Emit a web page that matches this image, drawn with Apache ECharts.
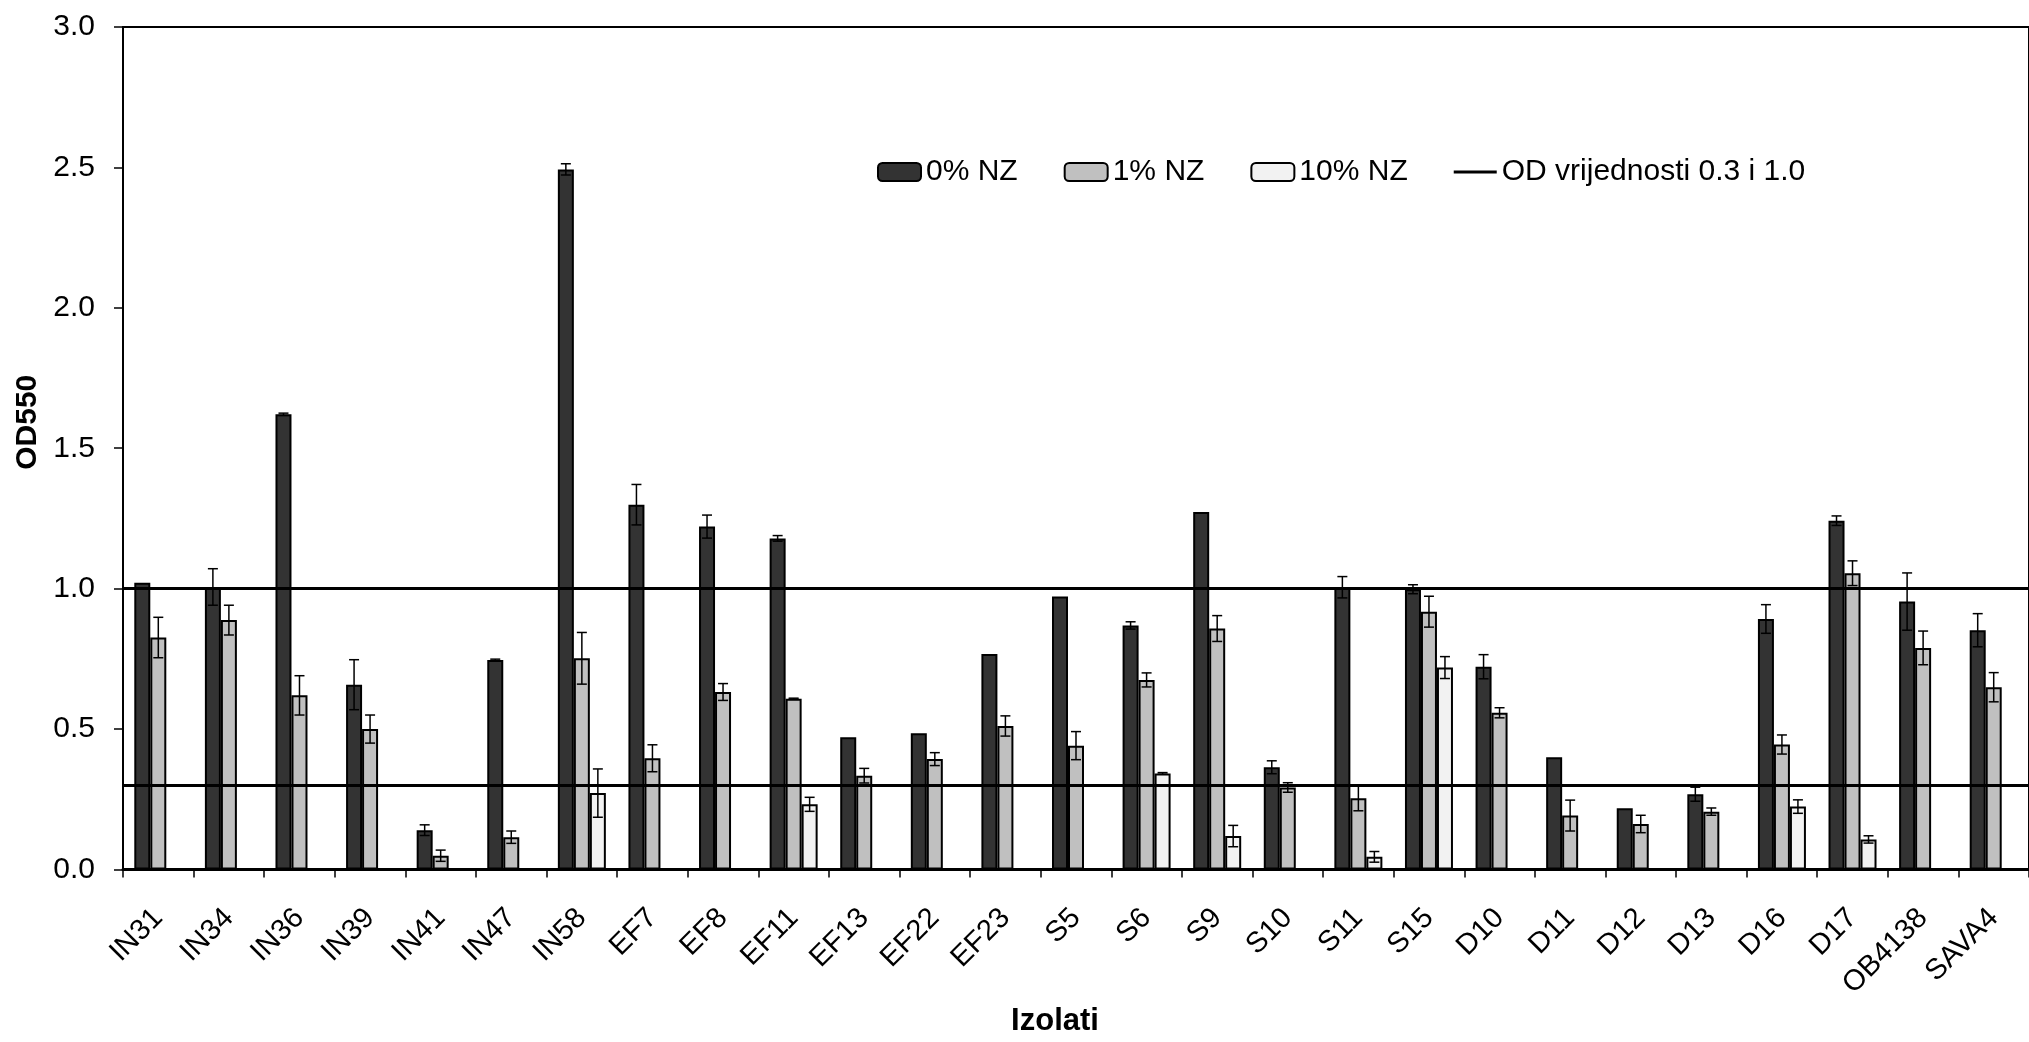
<!DOCTYPE html>
<html>
<head>
<meta charset="utf-8">
<script src="https://cdn.jsdelivr.net/npm/echarts@6/dist/echarts.min.js"></script>
<style>
html,body{margin:0;padding:0;background:#fff;}
#chart{width:2029px;height:1042px;}
</style>
</head>
<body>
<div id="chart"></div>
<script>
const categories = ['IN31','IN34','IN36','IN39','IN41','IN47','IN58','EF7','EF8','EF11','EF13','EF22','EF23','S5','S6','S9','S10','S11','S15','D10','D11','D12','D13','D16','D17','OB4138','SAVA4'];

const nz0  = [1.021,1.006,1.621,0.658,0.140,0.746,2.493,1.299,1.221,1.179,0.471,0.485,0.767,0.972,0.869,1.273,0.364,1.005,0.998,0.722,0.400,0.218,0.268,0.892,1.242,0.954,0.852];
const err0 = [0,    0.065,0.004,0.089,0.019,0.003,0.020,0.072,0.041,0.010,0,    0,    0,    0,    0.013,0,    0.023,0.038,0.016,0.043,0,    0,    0.025,0.051,0.017,0.102,0.059];

const nz1  = [0.826,0.888,0.620,0.500,0.049,0.115,0.752,0.396,0.632,0.608,0.334,0.393,0.511,0.441,0.675,0.858,0.292,0.254,0.918,0.558,0.192,0.162,0.206,0.445,1.055,0.789,0.649];
const err1 = [0.072,0.053,0.070,0.050,0.020,0.022,0.092,0.048,0.030,0.002,0.026,0.023,0.036,0.050,0.025,0.046,0.017,0.045,0.055,0.018,0.055,0.031,0.013,0.034,0.044,0.060,0.052];

const nz10  = [null,null,null,null,null,null,0.272,null,null,0.232,null,null,null,null,0.342,0.119,null,0.045,0.719,null,null,null,null,0.224,0.107,null,null];
const err10 = [null,null,null,null,null,null,0.086,null,null,0.025,null,null,null,null,0.003,0.038,null,0.019,0.039,null,null,null,null,0.024,0.013,null,null];

const thresholds = [0.3, 1.0];
const yTicks = [0, 0.5, 1.0, 1.5, 2.0, 2.5, 3.0];

const seriesNames = ['0% NZ','1% NZ','10% NZ'];
const lineName = 'OD vrijednosti 0.3 i 1.0';
const colors = ['#333333','#c0c0c0','#f2f2f2'];
const BAR_W = 16;
const FONT = 'Liberation Sans, Arial, sans-serif';

function barSeries(name, data, color) {
  return {
    name: name, type: 'bar', data: data,
    barWidth: BAR_W, barGap: '0%',
    itemStyle: {color: color, borderColor: '#000', borderWidth: 2},
    z: 2
  };
}

function errSeries(k, vals, errs) {
  const d = [];
  vals.forEach(function (v, i) {
    if (v != null && errs[i] != null && errs[i] > 0) d.push([i, v, errs[i]]);
  });
  return {
    name: 'err' + k, type: 'custom', data: d, z: 5,
    encode: {x: 0, y: 1},
    renderItem: function (params, api) {
      const idx = api.value(0), v = api.value(1), e = api.value(2);
      const x = api.coord([idx, v])[0] + (k - 1) * BAR_W;
      const yt = api.coord([idx, v + e])[1];
      const yb = api.coord([idx, v - e])[1];
      const hw = 5;
      const st = {stroke: '#000', lineWidth: 1.5};
      return {
        type: 'group',
        children: [
          {type: 'line', shape: {x1: x, y1: yt, x2: x, y2: yb}, style: st},
          {type: 'line', shape: {x1: x - hw, y1: yt, x2: x + hw, y2: yt}, style: st},
          {type: 'line', shape: {x1: x - hw, y1: yb, x2: x + hw, y2: yb}, style: st}
        ]
      };
    }
  };
}

const chart = echarts.init(document.getElementById('chart'));
chart.setOption({
  animation: false,
  backgroundColor: '#fff',
  textStyle: {fontFamily: FONT, color: '#000'},
  grid: {left: 123, top: 27, width: 1914, height: 880, show: true, borderColor: '#000', borderWidth: 2, backgroundColor: 'transparent'},
  legend: {
    data: [
      seriesNames[0], seriesNames[1], seriesNames[2],
      {name: lineName, icon: 'path://M0,0M43,18M0,7.5L43,7.5L43,10.5L0,10.5Z'}
    ],
    left: 872, top: 152,
    itemWidth: 43, itemHeight: 18, itemGap: 46,
    textStyle: {fontSize: 30, color: '#000', fontFamily: FONT},
    selectedMode: false
  },
  xAxis: {
    type: 'category', data: categories,
    name: 'Izolati', nameLocation: 'middle', nameGap: 109,
    nameTextStyle: {fontSize: 31, fontWeight: 'bold', color: '#000', fontFamily: FONT, padding: [0, 42, 0, 0]},
    axisLine: {lineStyle: {color: '#000', width: 3}},
    axisTick: {show: true, length: 8, lineStyle: {color: '#000', width: 1.5}},
    axisLabel: {rotate: 45, fontSize: 29, color: '#000', margin: 44, fontFamily: FONT, interval: 0}
  },
  yAxis: {
    type: 'value', min: 0, max: 3, interval: 0.5,
    name: 'OD550', nameLocation: 'middle', nameGap: 79, nameRotate: 90,
    nameTextStyle: {fontSize: 30, fontWeight: 'bold', color: '#000', fontFamily: FONT, padding: [0, 0, 0, 52]},
    axisLine: {show: true, lineStyle: {color: '#000', width: 2}},
    axisTick: {show: true, length: 9, lineStyle: {color: '#000', width: 1.5}},
    axisLabel: {fontSize: 30, color: '#000', margin: 28, fontFamily: FONT,
      formatter: function (v) { return yTicks.indexOf(v) >= 0 ? v.toFixed(1) : ''; }},
    splitLine: {show: false}
  },
  series: [
    barSeries(seriesNames[0], nz0, colors[0]),
    barSeries(seriesNames[1], nz1, colors[1]),
    barSeries(seriesNames[2], nz10, colors[2]),
    {
      name: lineName, type: 'line', data: [], symbol: 'none', z: 4,
      lineStyle: {color: '#000', width: 3},
      itemStyle: {color: '#000'},
      markLine: {
        silent: true, symbol: ['none', 'none'],
        label: {show: false},
        lineStyle: {color: '#000', width: 3, type: 'solid'},
        data: thresholds.map(function (t) { return {yAxis: t}; })
      }
    },
    errSeries(0, nz0, err0),
    errSeries(1, nz1, err1),
    errSeries(2, nz10, err10)
  ]
});
</script>
</body>
</html>
